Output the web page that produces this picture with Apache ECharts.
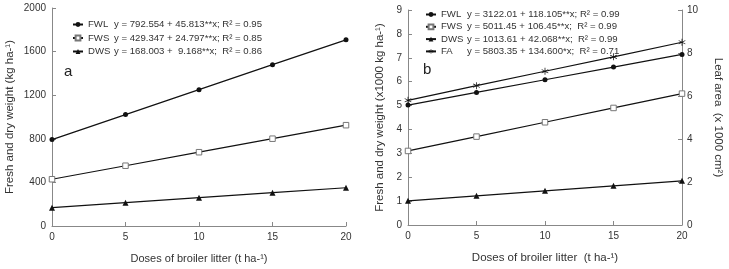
<!DOCTYPE html>
<html>
<head>
<meta charset="utf-8">
<script src="https://cdn.jsdelivr.net/npm/echarts@6/dist/echarts.min.js"></script>
<style>
  html, body { margin: 0; padding: 0; background: #fff; }
  #main { width: 729px; height: 269px; }
</style>
</head>
<body>
<div id="main"></div>
<script>
  // doses of broiler litter (t ha-1)
  var doses = [0, 5, 10, 15, 20];

  // panel a (kg ha-1)
  var fwlA = [793, 1022, 1251, 1480, 1708];
  var fwsA = [429, 553, 677, 801, 925];
  var dwsA = [168, 214, 260, 306, 351];

  // panel b (x1000 kg ha-1), leaf area on right axis (x1000 cm2)
  var fwlB = [5.02, 5.55, 6.08, 6.61, 7.14];
  var fwsB = [3.10, 3.70, 4.30, 4.90, 5.50];
  var dwsB = [1.01, 1.22, 1.43, 1.64, 1.85];
  var faB = [5.80, 6.48, 7.15, 7.82, 8.50];

  var eqA = {
    FWL: 'y = 792.554 + 45.813**x; R² = 0.95',
    FWS: 'y = 429.347 + 24.797**x; R² = 0.85',
    DWS: 'y = 168.003 +  9.168**x;  R² = 0.86'
  };
  var eqB = {
    FWL: 'y = 3122.01 + 118.105**x; R² = 0.99',
    FWS: 'y = 5011.45 + 106.45**x;  R² = 0.99',
    DWS: 'y = 1013.61 + 42.068**x;  R² = 0.99',
    FA: 'y = 5803.35 + 134.600*x;  R² = 0.71'
  };

  var star = 'path://M4.5,0h1v4.13l3.58-2.07.5.87L6,5l3.58,2.07-.5.87L5.5,5.87V10h-1V5.87L.92,7.94.42,7.07,4,5,.42,2.93.92,2.06,4.5,4.13z';

  function pairs(vals) {
    return doses.map(function (d, i) { return [d, vals[i]]; });
  }

  var axisCol = '#888';
  var txtCol = '#333';
  var ff = 'Liberation Sans';

  function mkSeries(name, vals, xi, yi, symbol, size, hollow) {
    return {
      name: name,
      type: 'line',
      xAxisIndex: xi,
      yAxisIndex: yi,
      data: pairs(vals),
      symbol: symbol,
      symbolSize: size,
      showAllSymbol: true,
      lineStyle: { color: '#111', width: 1.2 },
      itemStyle: hollow ? { color: '#fff', borderColor: '#777', borderWidth: 1 } : { color: '#111', borderWidth: 0 },
      emphasis: { disabled: true },
      animation: false
    };
  }

  function xAx(gi, name, fs) {
    return {
      type: 'value', gridIndex: gi, min: 0, max: 20, interval: 5,
      name: name,
      nameLocation: 'middle', nameGap: 27,
      nameTextStyle: { fontSize: fs, color: txtCol, fontFamily: ff },
      axisLine: { lineStyle: { color: axisCol } },
      axisTick: { inside: true, length: 4, lineStyle: { color: axisCol } },
      axisLabel: { fontSize: 10, color: txtCol, margin: 6, fontFamily: ff },
      splitLine: { show: false }
    };
  }

  function yAx(gi, pos, max, step, name, gap, rot) {
    return {
      type: 'value', gridIndex: gi, position: pos, min: 0, max: max, interval: step,
      name: name, nameLocation: 'middle', nameGap: gap, nameRotate: rot,
      nameTextStyle: { fontSize: 11.5, color: txtCol, fontFamily: ff },
      axisLine: { show: true, lineStyle: { color: axisCol } },
      axisTick: { show: true, inside: true, length: 4, lineStyle: { color: axisCol } },
      axisLabel: { fontSize: 10, color: txtCol, margin: pos === 'right' ? 5 : 6, fontFamily: ff,
        formatter: function (v) { return String(v); } },
      splitLine: { show: false }
    };
  }

  function legendText(eq) {
    return function (n) { var k = n.slice(2); return '{n|' + k + '}{e|' + eq[k] + '}'; };
  }

  var chart = echarts.init(document.getElementById('main'));
  var option = {
    backgroundColor: '#fff',
    animation: false,
    grid: [
      { left: 52, right: 383, top: 8, bottom: 36 },
      { left: 408, right: 47, top: 10, bottom: 35 }
    ],
    xAxis: [
      xAx(0, 'Doses of broiler litter (t ha-¹)', 11),
      xAx(1, 'Doses of broiler litter  (t ha-¹)', 11.5)
    ],
    yAxis: [
      yAx(0, 'left', 2000, 400, 'Fresh and dry weight (kg ha-¹)', 36, 90),
      yAx(1, 'left', 9, 1, 'Fresh and dry weight (x1000 kg ha-¹)', 22, 90),
      yAx(1, 'right', 10, 2, 'Leaf area  (x 1000 cm²)', 30, -90)
    ],
    legend: [
      {
        data: ['a-FWL', 'a-FWS', 'a-DWS'],
        orient: 'vertical', left: 67, top: 14,
        itemWidth: 10, itemHeight: 6, itemGap: 2.5,
        selectedMode: false,
        formatter: legendText(eqA),
        textStyle: {
          color: txtCol, fontSize: 9.6, lineHeight: 11, fontFamily: ff,
          rich: { n: { width: 26, fontSize: 9.6, fontFamily: ff }, e: { fontSize: 9.6, fontFamily: ff } }
        }
      },
      {
        data: ['b-FWL', 'b-FWS', 'b-DWS', 'b-FA'],
        orient: 'vertical', left: 420, top: 4,
        itemWidth: 10, itemHeight: 6, itemGap: 1.3,
        selectedMode: false,
        formatter: legendText(eqB),
        textStyle: {
          color: txtCol, fontSize: 9.6, lineHeight: 11, fontFamily: ff,
          rich: { n: { width: 26, fontSize: 9.6, fontFamily: ff }, e: { fontSize: 9.6, fontFamily: ff } }
        }
      }
    ],
    graphic: [
      { type: 'text', left: 64, top: 64, style: { text: 'a', fontSize: 15, fill: '#222', fontFamily: ff } },
      { type: 'text', left: 423, top: 62, style: { text: 'b', fontSize: 15, fill: '#222', fontFamily: ff } }
    ],
    series: [
      mkSeries('a-FWL', fwlA, 0, 0, 'circle', 5),
      mkSeries('a-FWS', fwsA, 0, 0, 'rect', 5.5, true),
      mkSeries('a-DWS', dwsA, 0, 0, 'triangle', 6),
      mkSeries('b-FWL', fwlB, 1, 1, 'circle', 5),
      mkSeries('b-FWS', fwsB, 1, 1, 'rect', 5.5, true),
      mkSeries('b-DWS', dwsB, 1, 1, 'triangle', 6),
      mkSeries('b-FA', faB, 1, 2, star, 7)
    ]
  };
  chart.setOption(option);
</script>
</body>
</html>
